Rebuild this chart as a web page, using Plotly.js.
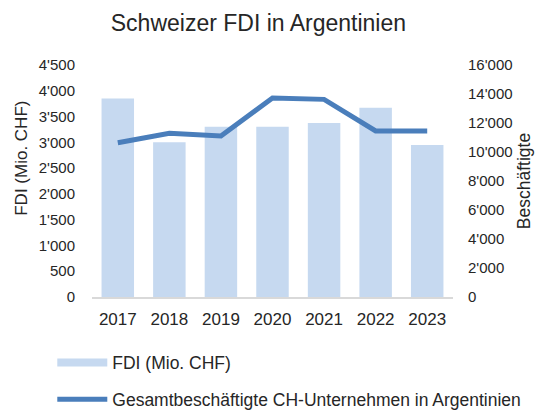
<!DOCTYPE html>
<html>
<head>
<meta charset="utf-8">
<script src="https://cdn.plot.ly/plotly-3.0.1.min.js"></script>
<style>html,body{margin:0;padding:0;background:#fff;}#chart{width:549px;height:416px;}</style>
</head>
<body>
<div id="chart"></div>
<script>
const years = ["2017", "2018", "2019", "2020", "2021", "2022", "2023"];
const fdi = [3850, 3000, 3300, 3300, 3375, 3670, 2950];
const employees = [10640, 11290, 11100, 13720, 13630, 11450, 11450];
const leftTicks = [0, 500, 1000, 1500, 2000, 2500, 3000, 3500, 4000, 4500];
const rightTicks = [0, 2000, 4000, 6000, 8000, 10000, 12000, 14000, 16000];
const fdiName = "FDI (Mio. CHF)";
const empName = "Gesamtbeschäftigte CH-Unternehmen in Argentinien";

const font = "Liberation Sans, Arial, sans-serif";
const barColor = "#c6d9f0";
const lineColor = "#4a7ebb";

const data = [
  {
    type: "bar", name: fdiName, x: years, y: fdi,
    marker: {color: barColor}, yaxis: "y", showlegend: false
  },
  {
    // legend-only entry drawing the wide bar swatch of the reference
    type: "scatter", mode: "lines", name: fdiName, x: [years[0]], y: [null],
    line: {color: barColor, width: 8}, legendgroup: "a", showlegend: true,
    hoverinfo: "skip"
  },
  {
    type: "scatter", mode: "lines", name: empName,
    x: years, y: employees, yaxis: "y2", legendgroup: "b",
    line: {color: lineColor, width: 5}
  }
];

const layout = {
  width: 549, height: 416,
  separators: ".'",
  font: {family: font, size: 15, color: "#262626"},
  paper_bgcolor: "#fff", plot_bgcolor: "#fff",
  margin: {l: 92, r: 96, t: 65, b: 119, autoexpand: false},
  title: {text: "Schweizer FDI in Argentinien", font: {size: 23, color: "#262626"},
          xref: "paper", x: 0.461, xanchor: "center", y: 0.945, yanchor: "middle"},
  bargap: 0.37,
  xaxis: {
    type: "category", showline: true, linecolor: "#d9d9d9", linewidth: 2,
    ticks: "", tickfont: {size: 17}, showgrid: false, zeroline: false,
    ticklabelstandoff: 6
  },
  yaxis: {
    range: [0, 4500], tickvals: leftTicks, tickformat: ",d",
    showgrid: false, zeroline: false, showline: false, ticks: "",
    tickfont: {size: 15}, ticklabelstandoff: 16
  },
  yaxis2: {
    overlaying: "y", side: "right", range: [0, 16000], tickvals: rightTicks, tickformat: ",d",
    showgrid: false, zeroline: false, showline: false, ticks: "",
    tickfont: {size: 15}, ticklabelstandoff: 14,
    title: {text: "Beschäftigte", font: {size: 17.5}, standoff: 6}
  },
  annotations: [{
    text: "FDI (Mio. CHF)", textangle: -90, xref: "paper", yref: "paper",
    x: -0.194, y: 0.60, xanchor: "center", yanchor: "middle", showarrow: false,
    font: {size: 17, color: "#262626"}
  }],
  legend: {
    orientation: "v", x: -0.11, xanchor: "left", y: -0.205, yanchor: "top",
    font: {size: 17.5}, itemwidth: 50, tracegroupgap: 11, bgcolor: "rgba(0,0,0,0)",
    traceorder: "grouped"
  },
  showlegend: true
};

Plotly.newPlot("chart", data, layout, {displayModeBar: false, staticPlot: true});
</script>
</body>
</html>
